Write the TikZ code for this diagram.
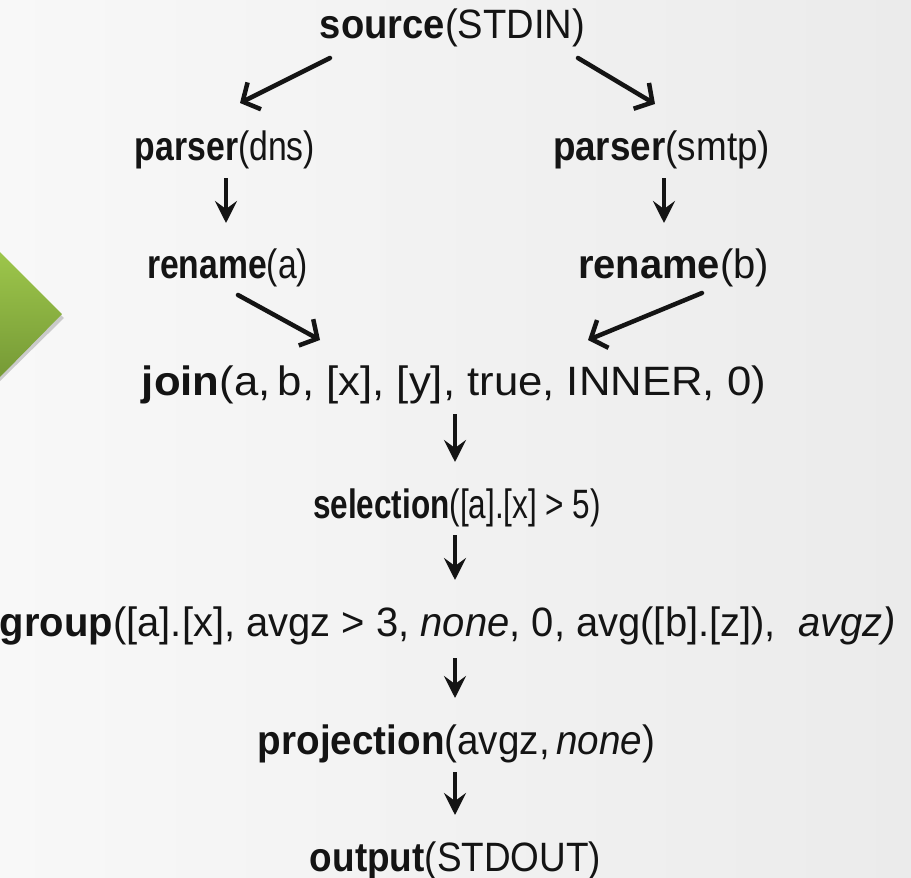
\documentclass[tikz,border=0pt]{standalone}
\usepackage{fontspec}
\setmainfont{Liberation Sans}
\usetikzlibrary{calc,arrows.meta}
\definecolor{txt}{HTML}{141414}
\definecolor{bgl}{HTML}{F8F8F8}
\definecolor{bgr}{HTML}{EBEBEB}
\definecolor{gtop}{HTML}{9DC64B}
\definecolor{gbot}{HTML}{769A36}
\newcommand{\fw}[2]{\resizebox{#1pt}{\height}{#2}}
\tikzset{
  lbl/.style={anchor=base, inner sep=0pt, text=txt, font=\fontsize{41}{44}\selectfont},
  varr/.style={draw=txt, line width=4.5pt, -{Stealth[length=22pt,width=22pt,inset=8pt]}},
  darr/.style={draw=txt, line width=4.5pt, line cap=round, -{Straight Barb[length=13pt,width=30pt,line width=4.5pt]}}
}
\begin{document}
\begin{tikzpicture}[x=1pt,y=-1pt]
\shade[left color=bgl, right color=bgr] (0,0) rectangle (911,878);
\useasboundingbox (0,0) rectangle (911,878);
% green arrow
\fill[black, opacity=0.18] (0,256) -- (64,318) -- (0,381) -- cycle;
\shade[top color=gtop, bottom color=gbot] (0,252) -- (62,314) -- (0,377) -- cycle;
% labels
\node[lbl] (src) at (452.5,38) {\fw{265}{\textbf{source}(STDIN)}};
\node[lbl] (pd) at (225,160) {\fw{180}{\textbf{parser}(dns)}};
\node[lbl] (ps) at (661.5,160) {\fw{217}{\textbf{parser}(smtp)}};
\node[lbl] (ra) at (227.5,278) {\fw{161}{\textbf{rename}(a)}};
\node[lbl] (rb) at (673.5,278) {\fw{191}{\textbf{rename}(b)}};
\node[lbl] (jn) at (454,395) {\fw{624}{\textbf{join}(a,\,b, [x], [y], true, INNER, 0)}};
\node[lbl] (sel) at (457,518) {\fw{288}{\textbf{selection}([a].[x] > 5)}};
\node[lbl] (grp) at (448,636) {\fw{896}{\textbf{group}([a].[x], avgz > 3, \textit{none}, 0, avg([b].[z]),\ \ \textit{avgz)}}};
\node[lbl] (proj) at (456.5,754) {\fw{397}{\textbf{projection}(avgz,\,\textit{none})}};
\node[lbl] (out) at (455.5,871) {\fw{291}{\textbf{output}(STDOUT)}};
% connectors
\draw[darr] ($(src.base)+(-122.5,20)$) -- ($(pd.base)+(15,-57)$);
\draw[darr] ($(src.base)+(125.5,20)$) -- ($(ps.base)+(-6.5,-56)$);
\draw[varr] ($(pd.base)+(1,18)$) -- ($(pd.base |- ra.base)+(1,-55)$);
\draw[varr] ($(ps.base)+(2.5,18)$) -- ($(ps.base |- rb.base)+(2.5,-55)$);
\draw[darr] ($(ra.base)+(10.5,17)$) -- ($(jn.base)+(-134,-55)$);
\draw[darr] ($(rb.base)+(28.5,15)$) -- ($(jn.base)+(134,-55)$);
\draw[varr] ($(jn.base)+(1,19)$) -- ($(jn.base |- sel.base)+(1,-56)$);
\draw[varr] ($(jn.base |- sel.base)+(1,17)$) -- ($(jn.base |- grp.base)+(1,-56)$);
\draw[varr] ($(jn.base |- grp.base)+(1,22)$) -- ($(jn.base |- proj.base)+(1,-56)$);
\draw[varr] ($(jn.base |- proj.base)+(1,18)$) -- ($(jn.base |- out.base)+(1,-56)$);
\end{tikzpicture}
\end{document}
